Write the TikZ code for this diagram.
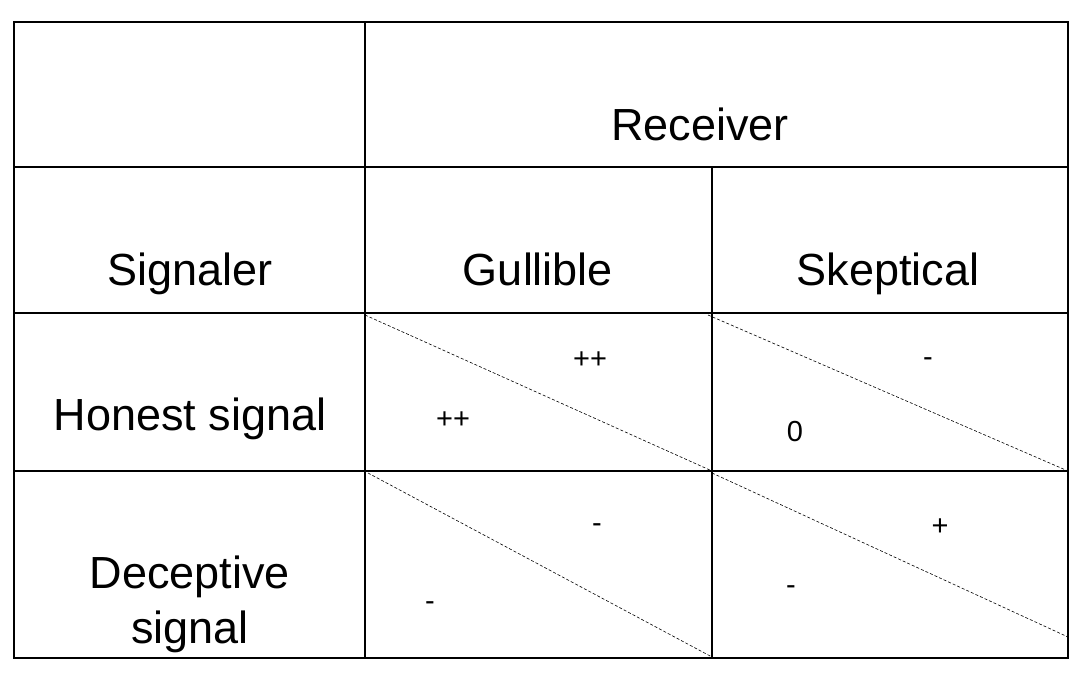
\documentclass[tikz,border=0pt]{standalone}
\usepackage{fontspec}
\setmainfont{Liberation Sans}
\begin{document}
\begin{tikzpicture}[x=1pt,y=-1pt,
  big/.style={font=\fontsize{45}{55}\selectfont,align=center,anchor=base,inner sep=0pt},
  small/.style={font=\fontsize{29}{34}\selectfont},
  grid/.style={line width=1.1pt},
  diag/.style={dashed,dash pattern=on 3pt off 2pt,line width=0.6pt}]
\useasboundingbox (0,0) rectangle (1089,680);
\draw[grid] (14,22) rectangle (1068,658);
\draw[line width=2.5pt] (14,658) -- (1068,658);
\draw[line width=2pt] (14,22) -- (14,659);
\draw[grid] (14,167) -- (1068,167);
\draw[grid] (14,313) -- (1068,313);
\draw[grid] (14,471) -- (1068,471);
\draw[grid] (365,22) -- (365,658);
\draw[grid] (712,167) -- (712,658);
\draw[diag] (365,315) -- (712,471);
\draw[diag] (708,315) -- (1068,471);
\draw[diag] (368,473) -- (712,657);
\draw[diag] (712,473) -- (1068,637);
\node[big] (rec) at (700,140) {Receiver};
\node[big] (sig) at (190,285) {Signaler};
\node[big] (gul) at (538,285) {Gullible};
\node[big] (ske) at (888,285) {Skeptical};
\node[big] (hon) at (190,430) {Honest signal};
\node[big] (dec) at (190,588) {Deceptive};
\node[big] (dec2) at (190,643) {signal};
\node[small] (a1) at (590,360) {++};
\node[small] (a2) at (453,420) {++};
\node[small] (b1) at (928,362) {-};
\node[small] (b2) at (795,432) {0};
\node[small] (c1) at (597,528) {-};
\node[small] (c2) at (430,606) {-};
\node[small] (d1) at (940,527) {+};
\node[small] (d2) at (791,590) {-};
\end{tikzpicture}
\end{document}
